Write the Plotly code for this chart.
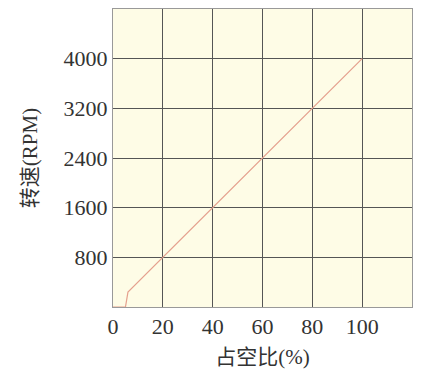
import plotly.graph_objects as go

duty = [0, 5, 6, 100]
rpm = [0, 0, 240, 4000]
x_ticks = [0, 20, 40, 60, 80, 100]
y_ticks = [800, 1600, 2400, 3200, 4000]

serif = "Liberation Serif"
mixed = "Liberation Serif, Noto Sans CJK SC"

fig = go.Figure()
fig.add_trace(go.Scatter(x=duty, y=rpm, mode="lines",
                         line=dict(color="#E5A08E", width=1.2), showlegend=False))

fig.update_layout(
    width=426, height=379,
    margin=dict(l=113, r=14, t=9, b=72),
    paper_bgcolor="white",
    plot_bgcolor="#FEFCE6",
    font=dict(family=serif, size=20, color="#333333"),
)
fig.update_xaxes(range=[0, 120], tickvals=x_ticks, ticks="", showgrid=True,
                 tickfont=dict(family=serif, size=22, color="#333333"),
                 gridcolor="#555555", gridwidth=1, zeroline=False,
                 showline=True, linecolor="#999999", mirror=True,
                 title=dict(text="占空比(%)", font=dict(family=mixed, size=21, color="#333333"), standoff=10))
fig.update_yaxes(range=[0, 4800], tickvals=y_ticks, ticks="", showgrid=True,
                 tickfont=dict(family=serif, size=22, color="#333333"),
                 gridcolor="#555555", gridwidth=1, zeroline=False,
                 showline=True, linecolor="#999999", mirror=True,
                 title=dict(text="转速(RPM)", font=dict(family=mixed, size=21, color="#333333"), standoff=20))

fig.write_html("out.html")
